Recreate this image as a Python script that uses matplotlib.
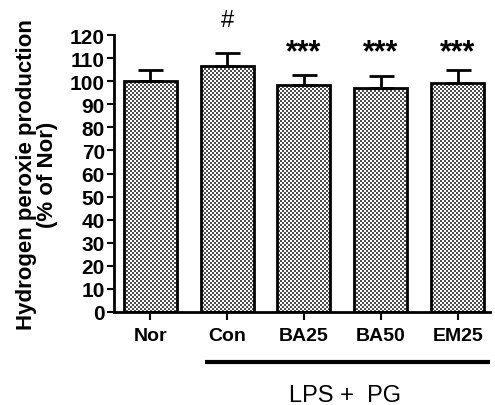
import numpy as np
import matplotlib
matplotlib.use('Agg')
import matplotlib.pyplot as plt
import matplotlib.transforms as mtransforms
from matplotlib.colors import ListedColormap

plt.rcParams['font.family'] = ['Liberation Sans', 'DejaVu Sans']

groups = ['Nor', 'Con', 'BA25', 'BA50', 'EM25']
means = [100, 106.5, 98.5, 97, 99]
sds = [5, 5.5, 4, 5.2, 6]
marks = ['', '#', '***', '***', '***']

W, H = 495, 406
fig = plt.figure(figsize=(W / 100, H / 100), dpi=100)
# axes placed on whole pixels so the checker fill lines up with the pixel grid
ax = fig.add_axes([114 / W, 93 / H, 376 / W, 277 / H])

x = np.arange(len(groups))
ax.set_xlim(-0.47, 4.42)
ax.set_ylim(0, 120)

bars = ax.bar(x, means, width=0.69, facecolor='none', edgecolor='black',
              linewidth=2, zorder=3)
ax.errorbar(x, means, yerr=[np.zeros(len(sds)), sds], fmt='none',
            ecolor='black', elinewidth=2, capsize=9, capthick=2, zorder=2)

# checkerboard fill, 2 px cells, drawn unresampled under the axes and clipped to each bar
ii, jj = np.mgrid[0:280, 0:380]
checker = ((ii // 2 + jj // 2) % 2).astype(float)
cmap = ListedColormap(['#4e4e4e', '#ffffff'])
for b in bars:
    im = fig.figimage(checker, xo=112, yo=91, cmap=cmap, vmin=0, vmax=1,
                      origin='lower', zorder=-1)
    im.set_clip_path(b)

for xi, t in zip(x, marks):
    if t == '#':
        ax.text(xi, 126.5, t, ha='center', va='center', fontsize=17)
    elif t:
        ax.text(xi, 112.5, t, ha='center', va='center', fontsize=22,
                fontweight='bold')

ax.set_yticks(np.arange(0, 121, 10))
ax.set_xticks(x)
ax.set_xticklabels(groups)
for lab in ax.get_xticklabels():
    lab.set_fontweight('bold')
    lab.set_fontsize(14)
for lab in ax.get_yticklabels():
    lab.set_fontweight('bold')
    lab.set_fontsize(15)
ax.tick_params(axis='y', direction='out', width=1.5, length=5, pad=1.5)
ax.tick_params(axis='x', direction='out', width=1.5, length=6, pad=5)
ax.spines['top'].set_visible(False)
ax.spines['right'].set_visible(False)
ax.spines['left'].set_linewidth(2)
ax.spines['bottom'].set_linewidth(2)
ax.patch.set_alpha(0)

ax.set_ylabel('Hydrogen peroxie production\n(% of Nor)', fontsize=16,
              fontweight='bold', linespacing=1.0)
ax.yaxis.set_label_coords(-0.148, 0.5)

trans = mtransforms.blended_transform_factory(ax.transData, ax.transAxes)
ax.plot([0.715, 4.42], [-0.18, -0.18], color='black', lw=3,
        transform=trans, clip_on=False, solid_capstyle='butt')
ax.text(2.534, -0.30, 'LPS +  PG', ha='center', va='center', fontsize=17,
        transform=trans)

fig.savefig('out.png', dpi=100)
